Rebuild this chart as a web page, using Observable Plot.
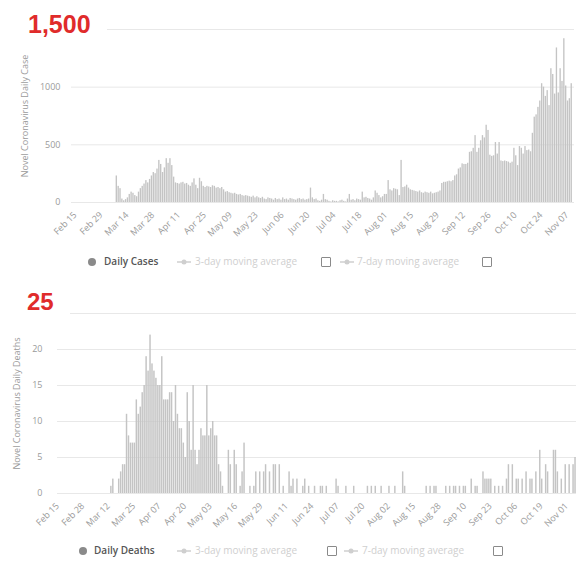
<!DOCTYPE html>
<html><head><meta charset="utf-8">
<script src="https://cdn.jsdelivr.net/npm/d3@7"></script>
<script src="https://cdn.jsdelivr.net/npm/@observablehq/plot@0.6"></script>
<style>
body{margin:0;background:#fff;}
#wrap{position:relative;width:576px;height:563px;overflow:hidden;font-family:"Open Sans",sans-serif;background:#fff;}
.chart{position:absolute;left:0;}
.big{position:absolute;font-family:"Liberation Sans",Arial,sans-serif;font-weight:bold;color:#e02b2b;background:#fff;line-height:1;padding-right:16px;}
.lg{position:absolute;white-space:nowrap;font-size:10px;line-height:12px;}
.dot{position:absolute;width:8px;height:8px;border-radius:50%;background:#8a8a8a;}
.name{color:#555;font-weight:600;}
.faint{color:#cfcfcf;}
.box{position:absolute;width:8px;height:8px;border:1px solid #8a8a8a;border-radius:1px;background:#fff;}
</style></head>
<body><div id="wrap"></div>
<script>
// ---- data ----
const casesStart = "2020-03-08";
const casesValues = [
 230,140,120,30,15,25,40,
 70,90,80,60,50,90,120,
 140,160,190,170,200,230,260,
 250,290,365,330,260,300,380,
 340,380,320,220,170,165,160,
 170,175,160,165,150,140,170,
 205,150,120,210,180,140,130,
 140,135,130,145,140,125,130,
 120,130,110,90,95,85,80,
 75,80,70,65,70,60,55,
 60,55,50,45,55,40,50,
 40,35,45,30,25,40,35,
 30,20,35,25,30,20,40,
 25,30,20,35,30,25,20,
 30,35,25,30,20,25,30,
 125,40,25,30,15,10,20,
 70,25,20,10,5,15,10,
 10,5,15,20,10,5,30,
 70,20,25,15,30,25,20,
 90,40,45,35,30,20,40,
 100,80,60,40,50,70,70,
 190,110,100,120,115,110,60,
 365,130,135,150,125,110,105,
 100,95,90,100,85,80,90,
 85,80,90,75,80,85,90,
 100,165,175,175,180,185,180,
 190,230,240,290,300,335,330,
 330,340,435,440,470,580,435,
 470,535,580,560,670,625,410,
 400,405,520,420,520,360,355,
 360,355,350,340,350,470,405,
 320,485,470,420,485,450,455,
 440,600,740,760,825,880,1030,
 1000,920,970,840,1160,1110,940,
 1340,950,1160,1050,1420,1010,880,
 900,1030
];
const casesTicks = ["Feb 15","Feb 29","Mar 14","Mar 28","Apr 11","Apr 25","May 09","May 23","Jun 06","Jun 20","Jul 04","Jul 18","Aug 01","Aug 15","Aug 29","Sep 12","Sep 26","Oct 10","Oct 24","Nov 07"];
const casesYTicks = [0,500,1000,1500];   // top value is shown by the red "1,500" label

const deathsStart = "2020-03-13";
const deathsValues = [
 1,2,0,0,2,3,4,4,11,8,
 7,7,7,13,11,12,14,15,19,17,
 22,18,17,16,15,15,19,13,13,13,
 14,14,10,15,11,9,9,7,5,14,
 10,6,15,6,4,6,9,8,8,15,
 8,9,10,8,8,4,3,1,0,0,
 6,4,0,6,4,0,1,3,7,0,
 0,1,0,1,3,0,3,0,3,4,
 0,3,0,4,4,0,4,0,1,0,
 0,3,1,2,0,2,0,0,1,2,
 0,1,0,0,1,0,0,1,1,0,
 1,0,0,0,0,2,1,0,0,0,
 1,0,0,0,1,0,0,0,0,0,
 0,1,0,1,0,1,0,0,1,0,
 0,0,1,0,0,1,0,0,0,3,
 1,0,0,0,0,0,0,0,0,0,
 0,1,0,1,0,1,1,0,0,0,
 0,1,0,1,0,1,1,0,1,0,
 1,1,0,0,2,0,1,1,0,0,
 3,2,2,2,2,0,1,0,1,0,
 1,0,2,4,0,4,0,2,2,0,
 2,0,3,0,2,2,0,3,0,6,
 2,0,4,3,0,0,6,6,3,0,
 2,0,4,0,4,0,4,5
];
const deathsTicks = ["Feb 15","Feb 28","Mar 12","Mar 25","Apr 07","Apr 20","May 03","May 16","May 29","Jun 11","Jun 24","Jul 07","Jul 20","Aug 02","Aug 15","Aug 28","Sep 10","Sep 23","Oct 06","Oct 19","Nov 01"];
const deathsYTicks = [0,5,10,15,20,25];  // top value is shown by the red "25" label

// ---- helpers ----
const parseDay = d3.utcParse("%Y-%m-%d");
const parseTick = s => d3.utcParse("%b %d %Y")(s + " 2020");
const series = (start, vals) => { const t0 = parseDay(start); return vals.map((v,i)=>({date: d3.utcDay.offset(t0,i), value: v})); };
const cases = series(casesStart, casesValues);
const deaths = series(deathsStart, deathsValues);
const wrap = document.getElementById("wrap");

function chart(data, opts){
  return Plot.plot({
    width:576, height:opts.height,
    marginLeft:opts.ml, marginRight:opts.mr, marginTop:opts.mt, marginBottom:opts.mb,
    style:{fontFamily:"'Open Sans',sans-serif", fontSize:"9px", color:"#9a9a9a", background:"transparent", overflow:"visible"},
    x:{type:"utc", domain:opts.xdomain, ticks:opts.xticks.map(parseTick), tickFormat:d3.utcFormat("%b %d"),
       tickRotate:-45, tickSize:0, tickPadding:11, label:null},
    y:{domain:[0, opts.yticks[opts.yticks.length-1]], ticks:opts.yticks.slice(0,-1), tickFormat:d3.format("d"), tickSize:0, tickPadding:opts.ypad,
       label:opts.ylabel, labelAnchor:"center", labelOffset:opts.lo, labelArrow:false},
    marks:[
      Plot.gridY(opts.yticks, {stroke:"#e8e8e8", strokeOpacity:1}),
      Plot.rectY(data, {x:"date", y:"value", interval:"day", fill:"#c4c4c4", insetLeft:0.25, insetRight:0.25})
    ]
  });
}

const casesChart = chart(cases, {height:245, ml:71, mr:2, mt:29, mb:43,
  xdomain:[parseDay("2020-02-13"), parseDay("2020-11-11")], xticks:casesTicks,
  yticks:casesYTicks, ypad:11, ylabel:"Novel Coronavirus Daily Case", lo:50});
casesChart.classList.add("chart"); casesChart.style.top = "0px";
wrap.appendChild(casesChart);

const deathsChart = chart(deaths, {height:250, ml:57, mr:0, mt:23, mb:47,
  xdomain:[parseDay("2020-02-15"), parseDay("2020-11-06")], xticks:deathsTicks,
  yticks:deathsYTicks, ypad:15, ylabel:"Novel Coronavirus Daily Deaths", lo:44});
deathsChart.classList.add("chart"); deathsChart.style.top = "290px";
wrap.appendChild(deathsChart);

// big red labels
function big(text, left, topPx, size){
  const d = document.createElement("div");
  d.className = "big"; d.textContent = text;
  d.style.left = left + "px"; d.style.top = topPx + "px"; d.style.fontSize = size + "px";
  wrap.appendChild(d);
}
big("1,500", 28, 12, 25);
big("25", 27, 290, 24);

// legends
function arrow(left, topPx){
  const s = document.createElementNS("http://www.w3.org/2000/svg","svg");
  s.setAttribute("width",14); s.setAttribute("height",8);
  s.style.position="absolute"; s.style.left=left+"px"; s.style.top=topPx+"px";
  s.innerHTML = '<line x1="0" y1="4" x2="14" y2="4" stroke="#cfcfcf" stroke-width="1.5"/><circle cx="7" cy="4" r="2.5" fill="#cfcfcf"/>';
  wrap.appendChild(s);
}
function legend(y, name, p){
  const dot = document.createElement("div"); dot.className="dot";
  dot.style.left = p.dot+"px"; dot.style.top = (y-4)+"px"; wrap.appendChild(dot);
  const add = (cls, text, left) => { const s = document.createElement("div"); s.className = "lg " + cls; s.textContent = text; s.style.left = left+"px"; s.style.top = (y-7)+"px"; wrap.appendChild(s); };
  add("name", name, p.name);
  arrow(p.a1, y-4);
  add("faint", "3-day moving average", p.t1);
  const b1 = document.createElement("div"); b1.className="box"; b1.style.left=p.b1+"px"; b1.style.top=(y-5)+"px"; wrap.appendChild(b1);
  arrow(p.a2, y-4);
  add("faint", "7-day moving average", p.t2);
  const b2 = document.createElement("div"); b2.className="box"; b2.style.left=p.b2+"px"; b2.style.top=(y-5)+"px"; wrap.appendChild(b2);
}
legend(262, "Daily Cases", {dot:88, name:104, a1:177, t1:195, b1:321, a2:340, t2:357, b2:482});
legend(551, "Daily Deaths", {dot:79, name:94, a1:177, t1:195, b1:327, a2:344, t2:362, b2:493});
</script></body></html>
